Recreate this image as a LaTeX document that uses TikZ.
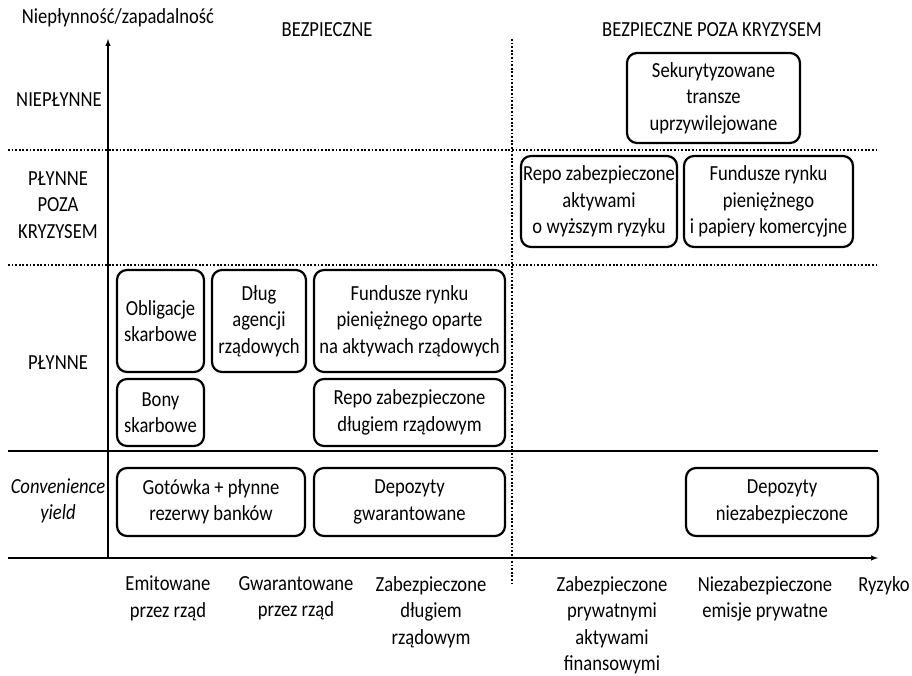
\documentclass[tikz,border=0pt]{standalone}
\usepackage{fontspec}
\setmainfont{Carlito}[FakeStretch=0.865]
\usepackage{tikz}
\usetikzlibrary{arrows}
\tikzstyle{box}=[rectangle,rounded corners=10pt,draw,line width=2.2pt,align=center,inner sep=0pt]
\tikzstyle{txt}=[align=center,inner sep=0pt]
\tikzstyle{gridline}=[draw,line width=1.2pt,dash pattern=on 1.8pt off 1.8pt]
\tikzstyle{solidline}=[draw,line width=1.2pt]
\tikzstyle{axis}=[draw,line width=1.4pt,->,>=latex]

\begin{document}
\begin{tikzpicture}[x=1pt,y=-1pt,font=\fontsize{21.5}{26.5}\selectfont]
 \useasboundingbox (0,0) rectangle (912,676);

 %axes
 \coordinate (o) at (108,558);
 \coordinate (ytip) at (108,39);
 \coordinate (xstart) at (8,558);
 \coordinate (xtip) at (878,558);
 \path[axis] (o) -- (ytip);
 \path[axis] (xstart) -- (xtip);

 %grid
 \foreach \y/\name in {150/g1, 265/g2, 451/g3}{
   \coordinate (\name l) at (8,\y);
   \coordinate (\name r) at (878,\y);
 }
 \path[gridline] (g1l) -- (g1r);
 \path[gridline] (g2l) -- (g2r);
 \path[solidline] (g3l) -- (g3r);
 \coordinate (vtop) at (512,39);
 \coordinate (vbot) at (512,586);
 \path[gridline] (vtop) -- (vbot);

 %headers
 \node[txt] (ylab) at (118,18) {Niepłynność/zapadalność};
 \node[txt] (safe) at (327,30) {BEZPIECZNE};
 \node[txt] (safenc) at (712,30) {BEZPIECZNE POZA KRYZYSEM};

 %rows
 \foreach \x/\y/\name/\label in {59/100/illiq/{NIEPŁYNNE}, 58/205/liqnc/{PŁYNNE\\POZA\\KRYZYSEM}, 58/363/liq/{PŁYNNE}}
   \node[txt] (\name) at (\x,\y) {\label};
 \node[txt,font=\fontsize{21.5}{26.5}\selectfont\itshape] (conv) at (58,501) {Convenience\\yield};

 %columns
 \foreach \x/\name/\label in {168/c1/{Emitowane\\przez rząd}, 296/c2/{Gwarantowane\\przez rząd}, 431/c3/{Zabezpieczone\\długiem\\rządowym}, 612/c4/{Zabezpieczone\\prywatnymi\\aktywami\\finansowymi}, 765/c5/{Niezabezpieczone\\emisje prywatne}, 884/risk/{Ryzyko}}
   \node[txt,anchor=north] (\name) at (\x,576) {\label};

 %boxes
 \foreach \x/\y/\w/\h/\name/\label in {
     160.5/321/87/102/obl/{Obligacje\\skarbowe},
     259/321/94/102/agency/{Dług\\agencji\\rządowych},
     409.5/321/191/102/mmfgov/{Fundusze rynku\\pieniężnego oparte\\na aktywach rządowych},
     160.5/412.5/87/67/bills/{Bony\\skarbowe},
     409.5/412.5/191/67/repogov/{Repo zabezpieczone\\długiem rządowym},
     211/502/188/68/cash/{Gotówka + płynne\\rezerwy banków},
     409.5/502/191/68/insdep/{Depozyty\\gwarantowane},
     782/502/192/68/uninsdep/{Depozyty\\niezabezpieczone},
     713.5/98/173/90/abs/{Sekurytyzowane\\transze\\uprzywilejowane},
     599/201.5/156/91/repopriv/{Repo zabezpieczone\\aktywami\\o wyższym ryzyku},
     768.5/201.5/169/91/mmfcp/{Fundusze rynku\\pieniężnego\\i papiery komercyjne}}
   \node[box,minimum width=\w pt,minimum height=\h pt] (\name) at (\x,\y) {\label};

\end{tikzpicture}
\end{document}
